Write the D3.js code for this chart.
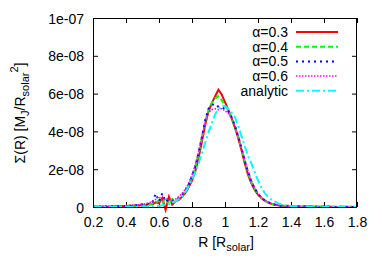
<!DOCTYPE html>
<html><head><meta charset="utf-8">
<script src="https://cdn.jsdelivr.net/npm/d3@7"></script>
<style>
html,body{margin:0;padding:0;background:#fff;}
text{font-family:"Liberation Sans",Arial,sans-serif;font-size:14px;fill:#000;}
</style></head>
<body>
<svg id="chart" width="382" height="267"></svg>
<script>
// Radius grid [R_solar]
const radius = [0.20,0.22,0.24,0.26,0.28,0.30,0.32,0.34,0.36,0.38,
0.40,0.42,0.44,0.46,0.48,0.50,0.52,0.54,0.56,0.58,
0.60,0.62,0.64,0.66,0.68,0.70,0.72,0.74,0.76,0.78,
0.80,0.82,0.84,0.86,0.88,0.90,0.92,0.94,0.96,0.98,
1.00,1.02,1.04,1.06,1.08,1.10,1.12,1.14,1.16,1.18,
1.20,1.22,1.24,1.26,1.28,1.30,1.32,1.34,1.36,1.38,
1.40,1.42,1.44,1.46,1.48,1.50,1.52,1.54,1.56,1.58,
1.60,1.62,1.64,1.66,1.68,1.70,1.72,1.74,1.76,1.78,1.80];

// Surface density, in units of 1e-8 M_J/R_solar^2
const alpha03 = [0.01,0.02,0.01,0.02,0.01,0.03,0.02,0.04,0.03,0.05,
0.04,0.07,0.06,0.09,0.08,0.12,0.10,0.16,0.14,0.25,
0.20,0.48,-0.15,0.55,0.12,0.30,0.38,0.55,0.75,1.05,
1.40,1.90,2.60,3.45,4.35,5.05,5.50,5.85,6.20,5.95,
5.55,5.15,4.70,4.20,3.65,3.00,2.30,1.70,1.25,0.90,
0.65,0.47,0.34,0.24,0.17,0.12,0.09,0.07,0.05,0.06,
0.04,0.03,0.04,0.02,0.03,0.02,0.02,0.01,0.02,0.01,
0.01,0.02,0.01,0.01,0.00,0.01,0.01,0.00,0.01,0.00,0.00];

const alpha04 = [0.02,0.01,0.02,0.01,0.03,0.02,0.03,0.02,0.04,0.05,
0.06,0.05,0.08,0.07,0.10,0.09,0.13,0.12,0.18,0.22,
0.35,0.18,0.50,0.15,0.42,0.32,0.45,0.62,0.85,1.15,
1.55,2.10,2.80,3.65,4.50,5.15,5.50,5.75,5.87,5.65,
5.35,5.10,4.70,4.25,3.70,3.05,2.40,1.80,1.30,0.95,
0.68,0.49,0.35,0.25,0.18,0.13,0.10,0.07,0.06,0.04,
0.05,0.03,0.03,0.04,0.02,0.02,0.03,0.01,0.02,0.01,
0.02,0.01,0.01,0.01,0.01,0.00,0.01,0.01,0.00,0.01,0.00];

const alpha05 = [0.01,0.02,0.02,0.01,0.03,0.02,0.04,0.03,0.05,0.04,
0.07,0.06,0.09,0.10,0.12,0.14,0.13,0.20,0.25,0.70,
0.30,0.72,0.28,0.40,0.35,0.38,0.48,0.65,0.88,1.20,
1.62,2.15,2.85,3.70,4.60,5.20,5.40,5.45,5.30,5.25,
5.20,5.05,4.75,4.30,3.75,3.10,2.45,1.85,1.35,0.98,
0.70,0.50,0.36,0.26,0.18,0.13,0.09,0.07,0.05,0.04,
0.05,0.03,0.03,0.02,0.03,0.02,0.02,0.02,0.01,0.02,
0.01,0.01,0.01,0.00,0.01,0.01,0.00,0.01,0.00,0.00,0.00];

const alpha06 = [0.02,0.01,0.03,0.02,0.02,0.04,0.03,0.05,0.04,0.06,
0.08,0.07,0.10,0.09,0.13,0.15,0.17,0.22,0.30,0.40,
0.55,0.35,0.45,0.40,0.38,0.42,0.55,0.72,0.95,1.28,
1.70,2.25,2.95,3.75,4.50,5.00,5.15,5.20,5.15,5.20,
5.10,4.95,4.70,4.30,3.80,3.15,2.50,1.90,1.40,1.02,
0.73,0.52,0.38,0.27,0.19,0.14,0.10,0.08,0.06,0.05,
0.04,0.04,0.03,0.03,0.02,0.03,0.02,0.02,0.01,0.02,
0.01,0.01,0.01,0.01,0.00,0.01,0.00,0.01,0.00,0.00,0.00];

const analytic = [0.00,0.00,0.00,0.00,0.00,0.00,0.00,0.00,0.00,0.00,
0.00,0.00,0.00,0.00,0.00,0.00,0.01,0.02,0.03,0.04,
0.06,0.09,0.12,0.16,0.22,0.30,0.42,0.58,0.80,1.10,
1.45,1.85,2.30,2.85,3.40,3.95,4.45,4.90,5.20,5.35,
5.35,5.20,5.00,4.75,4.30,3.75,3.20,2.70,2.30,1.85,
1.40,1.05,0.75,0.55,0.40,0.30,0.20,0.14,0.10,0.07,
0.05,0.04,0.03,0.02,0.02,0.01,0.01,0.01,0.00,0.00,
0.00,0.00,0.00,0.00,0.00,0.00,0.00,0.00,0.00,0.00,0.00];

const seriesNames = ["\u03b1=0.3","\u03b1=0.4","\u03b1=0.5","\u03b1=0.6","analytic"];
const xTicks = [0.2,0.4,0.6,0.8,1.0,1.2,1.4,1.6,1.8];
const xTickLabels = ["0.2","0.4","0.6","0.8","1","1.2","1.4","1.6","1.8"];
const yTicks = [0,2e-8,4e-8,6e-8,8e-8,1e-7];
const yTickLabels = ["0","2e-08","4e-08","6e-08","8e-08","1e-07"];

const seriesData = [alpha03, alpha04, alpha05, alpha06, analytic];
const styles = [
  {color:"#ff0000", width:2,   dash:null},
  {color:"#00ff00", width:2,   dash:"5,3"},
  {color:"#0000ff", width:2,   dash:"2,4"},
  {color:"#ff00ff", width:1.5, dash:"1.5,1.5"},
  {color:"#00ffff", width:2,   dash:"8,3,2,3"}
];

const svg = d3.select("#chart");
const m = {l:93, r:357, t:18, b:207};
const x = d3.scaleLinear().domain([0.2,1.8]).range([m.l,m.r]);
const y = d3.scaleLinear().domain([0,1e-7]).range([m.b,m.t]);

svg.append("clipPath").attr("id","clip").append("rect")
  .attr("x",m.l).attr("y",m.t-2).attr("width",m.r-m.l).attr("height",m.b-m.t+8);

const tl = 5;
const gBottom = svg.append("g").attr("transform",`translate(0,${m.b})`)
  .call(d3.axisBottom(x).tickValues(xTicks).tickSize(-tl).tickPadding(12)
        .tickFormat((d,i)=>xTickLabels[i]));
const gTop = svg.append("g").attr("transform",`translate(0,${m.t})`)
  .call(d3.axisTop(x).tickValues(xTicks).tickSize(-tl).tickFormat(""));
const gLeft = svg.append("g").attr("transform",`translate(${m.l},0)`)
  .call(d3.axisLeft(y).tickValues(yTicks).tickSize(-tl).tickPadding(9)
        .tickFormat((d,i)=>yTickLabels[i]));
const gRight = svg.append("g").attr("transform",`translate(${m.r},0)`)
  .call(d3.axisRight(y).tickValues(yTicks).tickSize(-tl).tickFormat(""));
[gBottom,gTop,gLeft,gRight].forEach(g=>{
  g.select(".domain").remove();
  g.selectAll("line").attr("stroke","#000").attr("stroke-width",1);
  g.selectAll("text").attr("font-family","Liberation Sans, Arial, sans-serif")
    .attr("font-size",14).attr("fill","#000");
});
gBottom.selectAll("text").attr("dy","0.71em").attr("y",10);
gLeft.selectAll("text").attr("dy","0.36em");

const line = d3.line().x((d,i)=>x(radius[i])).y(d=>y(d*1e-8));
const plot = svg.append("g").attr("clip-path","url(#clip)");
seriesData.forEach((vals,k)=>{
  const s = styles[k];
  plot.append("path").datum(vals).attr("d",line)
    .attr("fill","none").attr("stroke",s.color).attr("stroke-width",s.width)
    .attr("stroke-dasharray",s.dash).attr("stroke-linejoin","miter");
});

svg.append("rect").attr("x",m.l+0.5).attr("y",m.t+0.5)
  .attr("width",m.r-m.l-1).attr("height",m.b-m.t)
  .attr("fill","none").attr("stroke","#000").attr("stroke-width",1);

const lg = svg.append("g");
seriesNames.forEach((name,k)=>{
  const cy = 32 + k*14.7;
  lg.append("text").attr("x",288).attr("y",cy).attr("dy","0.36em")
    .attr("text-anchor","end").text(name);
  const s = styles[k];
  lg.append("line").attr("x1",296).attr("x2",338).attr("y1",cy).attr("y2",cy)
    .attr("stroke",s.color).attr("stroke-width",s.width).attr("stroke-dasharray",s.dash);
});

const xt = svg.append("text").attr("x",226).attr("y",247).attr("text-anchor","middle");
xt.append("tspan").text("R [R");
xt.append("tspan").attr("font-size",11).attr("dy",4).text("solar");
xt.append("tspan").attr("dy",-4).text("]");

const yt = svg.append("text").attr("transform","translate(25,113) rotate(-90)")
  .attr("text-anchor","middle");
yt.append("tspan").text("\u03a3(R) [M");
yt.append("tspan").attr("font-size",11).attr("dy",4).text("J");
yt.append("tspan").attr("dy",-4).text("/R");
yt.append("tspan").attr("font-size",11).attr("dy",4).text("solar");
yt.append("tspan").attr("font-size",11).attr("dy",-11).text("2");
yt.append("tspan").attr("dy",7).text("]");
</script>
</body></html>
